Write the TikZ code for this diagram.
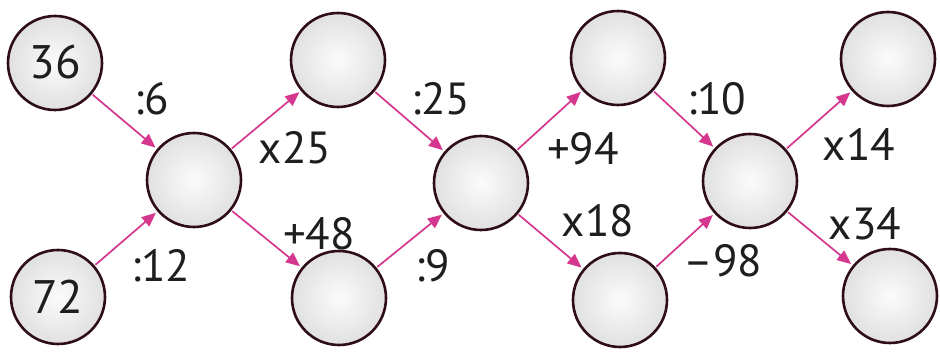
\documentclass[tikz,border=0pt]{standalone}
\usepackage{fontspec}
\setmainfont{PT Sans}
\usetikzlibrary{arrows.meta}
\definecolor{arrowpink}{HTML}{D6378E}
\definecolor{rim}{HTML}{2E0D18}
\definecolor{txt}{HTML}{1E1E1E}
\tikzset{
  bubble/.style={circle, draw=rim, line width=2.6pt, minimum size=94pt, inner sep=0pt,
    inner color=white!97!gray, outer color=black!12, font=\fontsize{47}{47}\selectfont, text=txt},
  flow/.style={draw=arrowpink, line width=1.7pt, -{Triangle[length=14pt,width=12pt]},
    shorten <=1pt, shorten >=2pt},
  oplabel/.style={font=\fontsize{45}{45}\selectfont, text=txt, inner sep=0pt}
}
\begin{document}
\begin{tikzpicture}[x=1pt,y=1pt]
\useasboundingbox (0,0) rectangle (940,352);
\fill[white] (0,0) rectangle (940,352);
% nodes (y = 352 - pixel y)
\node[bubble] (a) at (55,289) {\raisebox{2pt}{36}};
\node[bubble] (b) at (58,55) {\raisebox{-6pt}{72}};
\node[bubble] (m1) at (194,172) {};
\node[bubble] (t2) at (338,292) {};
\node[bubble] (b2) at (339,54) {};
\node[bubble] (m2) at (481,169) {};
\node[bubble] (t3) at (618,294) {};
\node[bubble] (b3) at (620,52) {};
\node[bubble] (m3) at (750,171) {};
\node[bubble] (t4) at (888,293) {};
\node[bubble] (b4) at (890,56) {};
% connectors
\draw[flow] (a) -- (m1);
\draw[flow] (b) -- (m1);
\draw[flow] (m1) -- (t2);
\draw[flow] (m1) -- (b2);
\draw[flow] (t2) -- (m2);
\draw[flow] (b2) -- (m2);
\draw[flow] (m2) -- (t3);
\draw[flow] (m2) -- (b3);
\draw[flow] (t3) -- (m3);
\draw[flow] (b3) -- (m3);
\draw[flow] (m3) -- (t4);
\draw[flow] (m3) -- (b4);
% labels
\node[oplabel] (l1) at (152,253) {:6};
\node[oplabel] (l2) at (161,86) {:12};
\node[oplabel] (l3) at (295,204) {x25};
\node[oplabel] (l4) at (319,118) {+48};
\node[oplabel] (l5) at (441,253) {:25};
\node[oplabel] (l6) at (433,86) {:9};
\node[oplabel] (l7) at (583,203) {+94};
\node[oplabel] (l8) at (598,131) {x18};
\node[oplabel] (l9) at (717,253) {:10};
\node[oplabel] (l10) at (723,91) {–98};
\node[oplabel] (l11) at (859,208) {x14};
\node[oplabel] (l12) at (865,128) {x34};
\end{tikzpicture}
\end{document}
